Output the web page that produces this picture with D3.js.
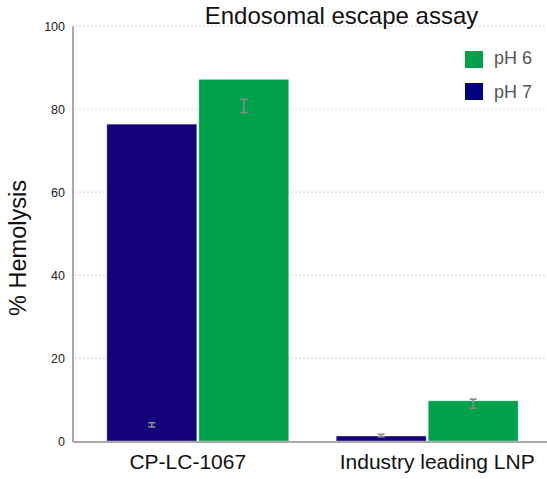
<!DOCTYPE html>
<html>
<head>
<meta charset="utf-8">
<script src="https://cdn.jsdelivr.net/npm/d3@7"></script>
<style>
  body { margin: 0; background: #fff; }
  svg { font-family: "Liberation Sans", Arial, sans-serif; }
</style>
</head>
<body>
<div id="chart"></div>
<script>
// data
var categories = ["CP-LC-1067", "Industry leading LNP"];
var seriesNames = ["pH 7", "pH 6"];
var ph7 = [76.4, 1.2];
var ph6 = [87.2, 9.7];
// error bars (centre and half-width) as drawn in the picture
var ph7ErrMid = [3.9, 1.3];
var ph7Err = [0.5, 0.3];
var ph6ErrMid = [80.8, 9.0];
var ph6Err = [1.6, 1.1];
var yTicks = [0, 20, 40, 60, 80, 100];

var colors = { "pH 7": "#16007a", "pH 6": "#00a14b" };
var legendColors = { "pH 6": "#00a14b", "pH 7": "#000080" };

var w = 547, h = 479;
var plotLeft = 73, plotTop = 26.3, plotBottom = 441;

var svg = d3.select("#chart").append("svg")
    .attr("width", w).attr("height", h);

var y = d3.scaleLinear().domain([0, 100]).range([plotBottom, plotTop]);
var x = d3.scaleBand().domain(categories).range([77, 548])
    .paddingInner(0.207).paddingOuter(0.13);
var xs = d3.scaleBand().domain(seriesNames).range([0, x.bandwidth()])
    .paddingInner(0.022);

// dotted grid
svg.append("g").selectAll("line").data(yTicks.filter(function(d) { return d > 0; }))
    .enter().append("line")
    .attr("x1", plotLeft + 2).attr("x2", w)
    .attr("y1", function(d) { return y(d); }).attr("y2", function(d) { return y(d); })
    .attr("stroke", "#d8d8d8").attr("stroke-width", 1.2)
    .attr("stroke-dasharray", "2,2");

// bars
var rows = [];
categories.forEach(function(c, i) {
    rows.push({ cat: c, s: "pH 7", v: ph7[i], em: ph7ErrMid[i], e: ph7Err[i] });
    rows.push({ cat: c, s: "pH 6", v: ph6[i], em: ph6ErrMid[i], e: ph6Err[i] });
});

svg.append("g").selectAll("rect").data(rows).enter().append("rect")
    .attr("x", function(d) { return x(d.cat) + xs(d.s); })
    .attr("width", xs.bandwidth())
    .attr("y", function(d) { return y(d.v); })
    .attr("height", function(d) { return y(0) - y(d.v); })
    .attr("fill", function(d) { return colors[d.s]; })
    .attr("stroke", "rgba(255,255,255,0.35)").attr("stroke-width", 1);

// error bars
var eb = svg.append("g").attr("stroke", "#8a8a8a").attr("stroke-width", 1.6);
rows.forEach(function(d) {
    var cx = x(d.cat) + xs(d.s) + xs.bandwidth() / 2;
    var y1 = y(d.em + d.e), y2 = y(d.em - d.e);
    eb.append("line").attr("x1", cx).attr("x2", cx).attr("y1", y1).attr("y2", y2);
    eb.append("line").attr("x1", cx - 3.5).attr("x2", cx + 3.5).attr("y1", y1).attr("y2", y1);
    eb.append("line").attr("x1", cx - 3.5).attr("x2", cx + 3.5).attr("y1", y2).attr("y2", y2);
});

// axes lines
svg.append("line").attr("x1", plotLeft).attr("x2", plotLeft)
    .attr("y1", plotTop).attr("y2", plotBottom + 1)
    .attr("stroke", "#aaaaaa").attr("stroke-width", 2);
svg.append("line").attr("x1", plotLeft).attr("x2", w)
    .attr("y1", plotBottom + 1).attr("y2", plotBottom + 1)
    .attr("stroke", "#aaaaaa").attr("stroke-width", 2);

// y tick labels
var yaxis = d3.axisLeft(y).tickValues(yTicks).tickSize(0).tickPadding(8);
svg.append("g").attr("transform", "translate(" + plotLeft + ",0)").call(yaxis)
    .call(function(g) { g.select(".domain").remove(); })
    .selectAll("text").attr("font-size", "12.5px").attr("fill", "#222")
    .attr("font-family", "Liberation Sans, Arial, sans-serif");

// x labels (slightly off-centre in the original)
var labelShift = [-10, 10];
var xaxis = d3.axisBottom(x).tickSize(0).tickPadding(13);
svg.append("g").attr("transform", "translate(0," + plotBottom + ")").call(xaxis)
    .call(function(g) { g.select(".domain").remove(); })
    .selectAll("text").attr("font-size", "21px").attr("fill", "#111")
    .attr("dx", function(d, i) { return labelShift[i]; })
    .attr("font-family", "Liberation Sans, Arial, sans-serif");

// y label
svg.append("text").attr("transform", "translate(26,248) rotate(-90)")
    .style("text-anchor", "middle").attr("font-size", "23.5px").attr("fill", "#111")
    .text("% Hemolysis");

// title
svg.append("text").attr("x", 341.5).attr("y", 24)
    .style("text-anchor", "middle").attr("font-size", "24px").attr("fill", "#111")
    .text("Endosomal escape assay");

// legend
var legendItems = ["pH 6", "pH 7"];
var lg = svg.append("g").attr("transform", "translate(465,50)");
legendItems.forEach(function(s, i) {
    lg.append("rect").attr("x", 0).attr("y", i * 32 + 1).attr("width", 18).attr("height", 17)
        .attr("fill", legendColors[s]);
    lg.append("text").attr("x", 29).attr("y", i * 34 + 14)
        .attr("font-size", "18px").attr("fill", "#555").text(s);
});
</script>
</body>
</html>
